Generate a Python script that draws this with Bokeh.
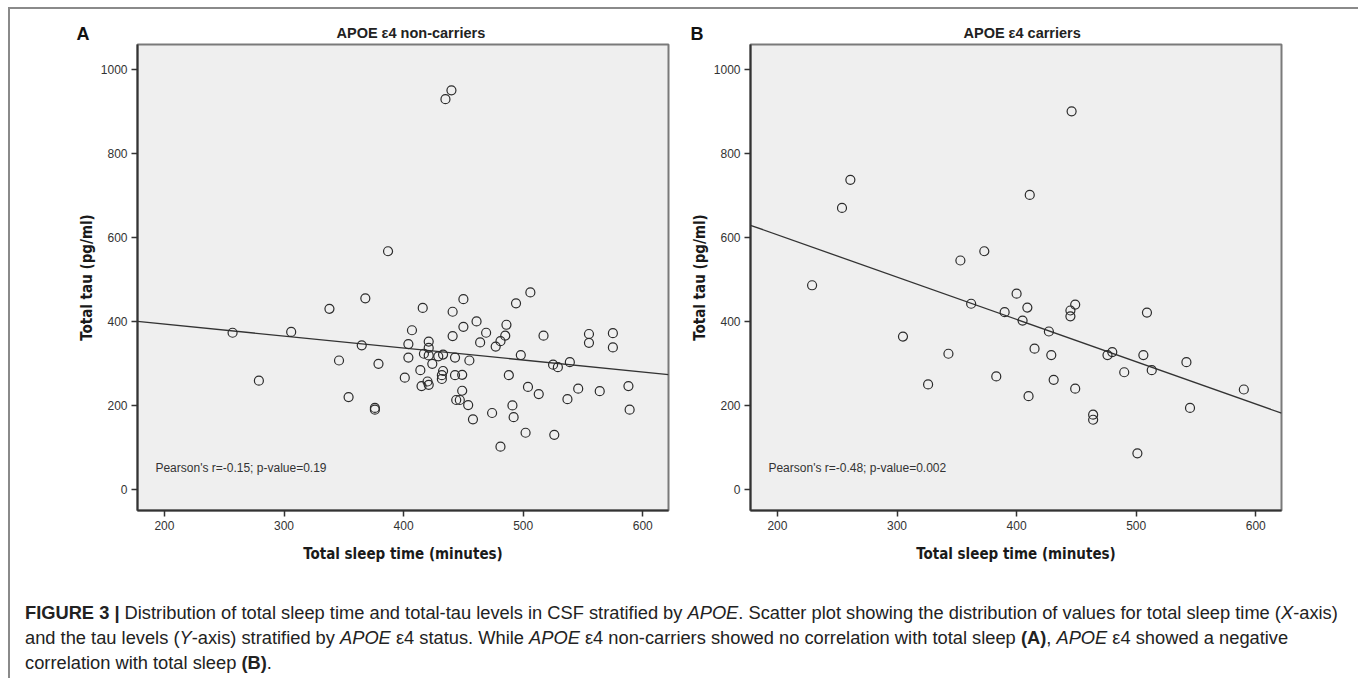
import numpy as np
from bokeh.plotting import figure
from bokeh.models import Range1d, Div, FixedTicker, Title
from bokeh.layouts import row, column
from bokeh.embed import file_html
from bokeh.resources import INLINE
from bokeh.core.properties import value

# ---------------- data ----------------
a_title = "APOE ε4 non-carriers"
b_title = "APOE ε4 carriers"
x_label = "Total sleep time (minutes)"
y_label = "Total tau (pg/ml)"
a_stats = "Pearson's r=-0.15; p-value=0.19"
b_stats = "Pearson's r=-0.48; p-value=0.002"

a_sleep = [257, 279, 306, 338, 346, 354, 365, 368, 376, 376, 379, 387, 401, 404, 404, 407,
           414, 415, 416, 417, 420, 421, 421, 421, 421, 424, 429, 432, 432, 433, 433, 435,
           440, 441, 441, 443, 443, 444, 447, 449, 449, 450, 450, 455, 454, 458, 461, 464,
           469, 474, 477, 481, 481, 485, 486, 488, 491, 492, 494, 498, 502, 504, 506, 513,
           517, 525, 526, 529, 537, 539, 546, 555, 555, 564, 575, 575, 588, 589]
a_tau = [373, 259, 375, 430, 307, 220, 343, 455, 194, 190, 299, 567, 266, 346, 314, 379,
         284, 246, 432, 323, 257, 337, 352, 319, 249, 299, 317, 263, 272, 282, 321, 929,
         950, 423, 365, 314, 272, 213, 213, 235, 273, 453, 387, 307, 201, 167, 400, 350,
         373, 182, 340, 353, 102, 366, 392, 272, 200, 172, 443, 320, 135, 244, 469, 227,
         366, 297, 130, 291, 215, 303, 240, 370, 349, 234, 372, 338, 246, 190]

b_sleep = [229, 254, 261, 305, 326, 343, 353, 362, 373, 383, 390, 400, 405, 409, 411, 410,
           415, 427, 429, 431, 445, 445, 449, 446, 449, 464, 464, 476, 480, 490, 501, 506,
           509, 513, 542, 545, 590]
b_tau = [486, 670, 737, 364, 250, 323, 545, 442, 567, 269, 422, 466, 402, 433, 701, 222,
         335, 376, 320, 261, 426, 412, 440, 900, 240, 166, 178, 320, 327, 279, 86, 320,
         421, 284, 303, 194, 238]

# fitted regression lines (intercept, slope)
a_fit = (450.6, -0.285)
b_fit = (807.5, -1.007)

x_ticks = [200, 300, 400, 500, 600]
y_ticks = [0, 200, 400, 600, 800, 1000]
x_lim = (177.5, 621.5)
y_lim = (-50, 1059)

caption_html = (
    "<b>FIGURE 3 |</b> Distribution of total sleep time and total-tau levels in CSF stratified by "
    "<i>APOE</i>. Scatter plot showing the distribution of values for total sleep time (<i>X</i>-axis)<br>"
    "and the tau levels (<i>Y</i>-axis) stratified by <i>APOE</i> ε4 status. While <i>APOE</i> ε4 "
    "non-carriers showed no correlation with total sleep <b>(A)</b>, <i>APOE</i> ε4 showed a negative<br>"
    "correlation with total sleep <b>(B)</b>."
)

AX_FONT = "DejaVu Sans Condensed"
TXT_FONT = "Liberation Sans"
FRAME_W, FRAME_H = 531, 466


def panel(letter, title, sx, ty, fit, stats, border_left, border_right,
          title_offset, letter_offset):
    p = figure(frame_width=FRAME_W, frame_height=FRAME_H,
               min_border_left=border_left, min_border_right=border_right,
               min_border_top=35, min_border_bottom=65,
               x_range=Range1d(*x_lim), y_range=Range1d(*y_lim),
               output_backend="svg", toolbar_location=None,
               background_fill_color="#efefef", border_fill_color="white")
    p.outline_line_color = "#7a7a7a"
    p.outline_line_width = 2
    p.xgrid.visible = False
    p.ygrid.visible = False

    p.title.text = title
    p.title.align = "left"
    p.title.offset = title_offset
    p.title.text_font = TXT_FONT
    p.title.text_font_size = "14.5px"
    p.title.text_font_style = "bold"
    p.title.text_color = "#222222"
    p.title.standoff = -41

    # panel letter as a second title on the same line as the heading
    p.add_layout(Title(text=letter, align="left", offset=letter_offset,
                       text_font=TXT_FONT, text_font_size="18px",
                       text_font_style="bold", text_color="#111111",
                       standoff=2), "above")

    p.xaxis.ticker = FixedTicker(ticks=x_ticks)
    p.yaxis.ticker = FixedTicker(ticks=y_ticks)
    p.xaxis.axis_label = x_label
    p.yaxis.axis_label = y_label
    for ax in (p.xaxis[0], p.yaxis[0]):
        ax.axis_line_color = "#333333"
        ax.axis_line_width = 2
        ax.major_tick_line_color = "#333333"
        ax.major_tick_line_width = 1.5
        ax.major_tick_out = 6
        ax.major_tick_in = 0
        ax.minor_tick_out = 0
        ax.minor_tick_in = 0
        ax.major_label_text_font = TXT_FONT
        ax.major_label_text_font_size = "12px"
        ax.major_label_text_color = "#333333"
        ax.major_label_standoff = 4
        ax.axis_label_text_font = AX_FONT
        ax.axis_label_text_font_size = "15px"
        ax.axis_label_text_font_style = "bold"
        ax.axis_label_text_color = "#1a1a1a"
    p.xaxis.axis_label_standoff = 12
    p.yaxis.axis_label_standoff = 2

    xs = np.array(x_lim)
    p.line(xs, fit[0] + fit[1] * xs, line_color="#333333", line_width=1.3)
    p.scatter(sx, ty, size=9, marker="circle", fill_color=None,
              line_color="#2b2b2b", line_width=1.2)

    p.text(x=[192.5], y=[52], text=[stats], text_font=value(TXT_FONT),
           text_font_size="12px", text_color="#333333", text_baseline="middle",
           text_align="left")
    return p


pA = panel("A", a_title, a_sleep, a_tau, a_fit, a_stats, 127, 12, 199, -61)
pB = panel("B", b_title, b_sleep, b_tau, b_fit, b_stats, 70, 73, 213, -60)

cap = Div(text=('<div style="font-family: \'Liberation Sans\', Arial, sans-serif; font-size:18.3px; '
                'line-height:25px; color:#222; white-space:nowrap; padding:20px 0 0 10px;">'
                + caption_html + '</div>'),
          width=1344, height=95)

layout = column(row(pA, pB), cap,
                styles={"border-top": "2px solid #8a8a8a", "border-left": "2px solid #8a8a8a",
                        "border-right": "2px solid #8a8a8a",
                        "margin-left": "8px", "margin-top": "7px"})

open("out.html", "w").write(file_html(layout, INLINE))
